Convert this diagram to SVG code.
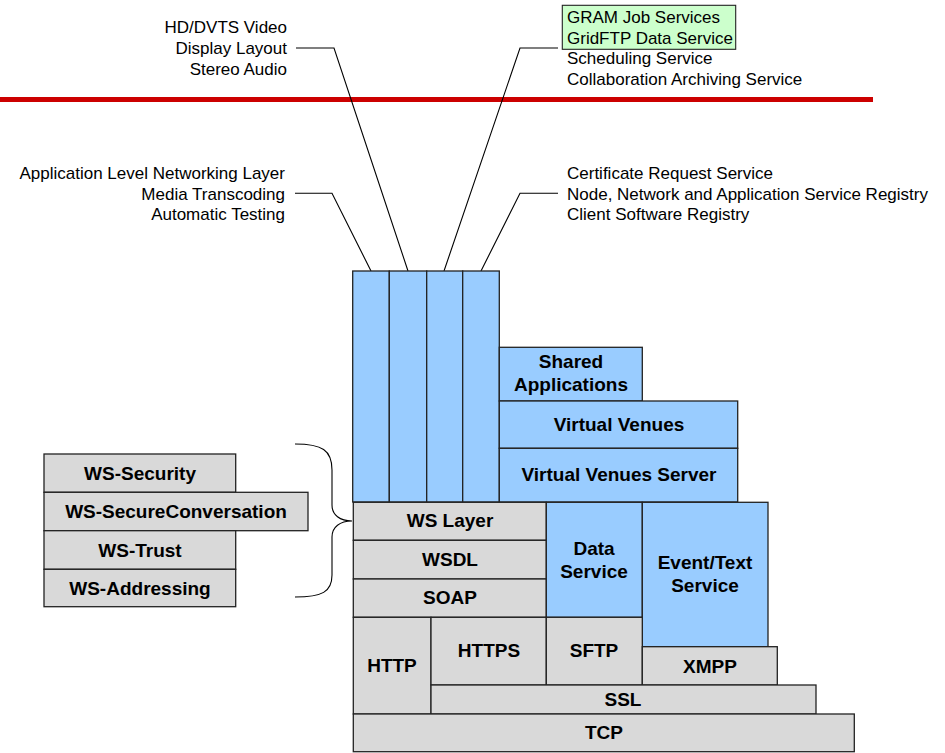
<svg xmlns="http://www.w3.org/2000/svg" width="945" height="753" viewBox="0 0 945 753">
<style>
.lbl{font-family:"Liberation Sans",Arial,sans-serif;font-size:17px;fill:#000}
.r{text-anchor:end}
.b{font-family:"Liberation Sans",Arial,sans-serif;font-size:19px;font-weight:bold;fill:#000;text-anchor:middle}
.blue{fill:#99ccff;stroke:#222;stroke-width:1.3}
.gray{fill:#d9d9d9;stroke:#222;stroke-width:1.3}
.ln{fill:none;stroke:#000;stroke-width:1.1}
</style>
<rect width="945" height="753" fill="#fff"/>
<g id="red-line"><line x1="0" y1="99.5" x2="873" y2="99.5" stroke="#cc0000" stroke-width="5"/></g>
<g id="label-hd">
<text class="lbl r" x="287" y="33">HD/DVTS Video</text>
<text class="lbl r" x="287" y="54">Display Layout</text>
<text class="lbl r" x="287" y="75">Stereo Audio</text>
</g>
<g id="label-gram">
<rect x="562.3" y="5.3" width="173.4" height="44" fill="#ccffcc" stroke="#222" stroke-width="1.1"/>
<text class="lbl" x="567" y="23">GRAM Job Services</text>
<text class="lbl" x="567" y="44">GridFTP Data Service</text>
<text class="lbl" x="567" y="64">Scheduling Service</text>
<text class="lbl" x="567" y="85">Collaboration Archiving Service</text>
</g>
<g id="label-app">
<text class="lbl r" x="285" y="179">Application Level Networking Layer</text>
<text class="lbl r" x="285" y="199.5">Media Transcoding</text>
<text class="lbl r" x="285" y="220">Automatic Testing</text>
</g>
<g id="label-cert">
<text class="lbl" x="567" y="179">Certificate Request Service</text>
<text class="lbl" x="567" y="199.5">Node, Network and Application Service Registry</text>
<text class="lbl" x="567" y="220">Client Software Registry</text>
</g>
<g id="connectors">
<polyline class="ln" points="296,48 334,48 408,271"/>
<polyline class="ln" points="558,48 520,48 444,271"/>
<polyline class="ln" points="295,193.3 332,193.3 371,271"/>
<polyline class="ln" points="558,193.3 520,193.3 481,271"/>
<path class="ln" d="M295,444 C322,444 332,450 332,470 L332,505 C332,515 340,521 352,521 C340,521 332,527 332,537 L332,575 C332,592 322,597 295,597" stroke-width="1.4"/>
</g>
<g id="col1"><rect class="blue" x="352.7" y="271" width="36.6" height="231"/></g>
<g id="col2"><rect class="blue" x="389.3" y="271" width="37.4" height="231"/></g>
<g id="col3"><rect class="blue" x="426.7" y="271" width="36" height="231"/></g>
<g id="col4"><rect class="blue" x="462.7" y="271" width="36.6" height="231"/></g>
<g id="shared-apps"><rect class="blue" x="499.3" y="347.3" width="143" height="53.7"/>
<text class="b" x="571" y="368">Shared</text><text class="b" x="571" y="391">Applications</text></g>
<g id="virtual-venues"><rect class="blue" x="499.3" y="401" width="238.4" height="47.3"/>
<text class="b" x="619" y="431">Virtual Venues</text></g>
<g id="vv-server"><rect class="blue" x="499.3" y="448.3" width="238.4" height="53.7"/>
<text class="b" x="619" y="481">Virtual Venues Server</text></g>
<g id="ws-layer"><rect class="gray" x="353.3" y="502.3" width="193" height="38"/>
<text class="b" x="450" y="527">WS Layer</text></g>
<g id="wsdl"><rect class="gray" x="353.3" y="540.3" width="193" height="38.7"/>
<text class="b" x="450" y="566">WSDL</text></g>
<g id="soap"><rect class="gray" x="353.3" y="579" width="193" height="38.3"/>
<text class="b" x="450" y="604">SOAP</text></g>
<g id="data-service"><rect class="blue" x="546.3" y="502.3" width="96" height="115"/>
<text class="b" x="594" y="555">Data</text><text class="b" x="594" y="578">Service</text></g>
<g id="event-service"><rect class="blue" x="642.3" y="502.3" width="125.7" height="144.4"/>
<text class="b" x="705" y="569">Event/Text</text><text class="b" x="705" y="592">Service</text></g>
<g id="http"><rect class="gray" x="353.3" y="617.3" width="77.7" height="96.7"/>
<text class="b" x="392" y="672">HTTP</text></g>
<g id="https"><rect class="gray" x="431" y="617.3" width="115.3" height="67.7"/>
<text class="b" x="489" y="657">HTTPS</text></g>
<g id="sftp"><rect class="gray" x="546.3" y="617.3" width="96" height="67.7"/>
<text class="b" x="594" y="657">SFTP</text></g>
<g id="xmpp"><rect class="gray" x="642.3" y="646.7" width="135" height="38.3"/>
<text class="b" x="710" y="673">XMPP</text></g>
<g id="ssl"><rect class="gray" x="431" y="685" width="385" height="29"/>
<text class="b" x="623" y="706">SSL</text></g>
<g id="tcp"><rect class="gray" x="353.3" y="714" width="501" height="37.7"/>
<text class="b" x="604" y="739">TCP</text></g>
<g id="ws-security"><rect class="gray" x="44" y="454" width="191.7" height="38.3"/>
<text class="b" x="140" y="480">WS-Security</text></g>
<g id="ws-secureconv"><rect class="gray" x="44" y="492.3" width="264" height="38.4"/>
<text class="b" x="176" y="518">WS-SecureConversation</text></g>
<g id="ws-trust"><rect class="gray" x="44" y="530.7" width="191.7" height="38.6"/>
<text class="b" x="140" y="557">WS-Trust</text></g>
<g id="ws-addressing"><rect class="gray" x="44" y="569.3" width="191.7" height="37.4"/>
<text class="b" x="140" y="595">WS-Addressing</text></g>
</svg>
